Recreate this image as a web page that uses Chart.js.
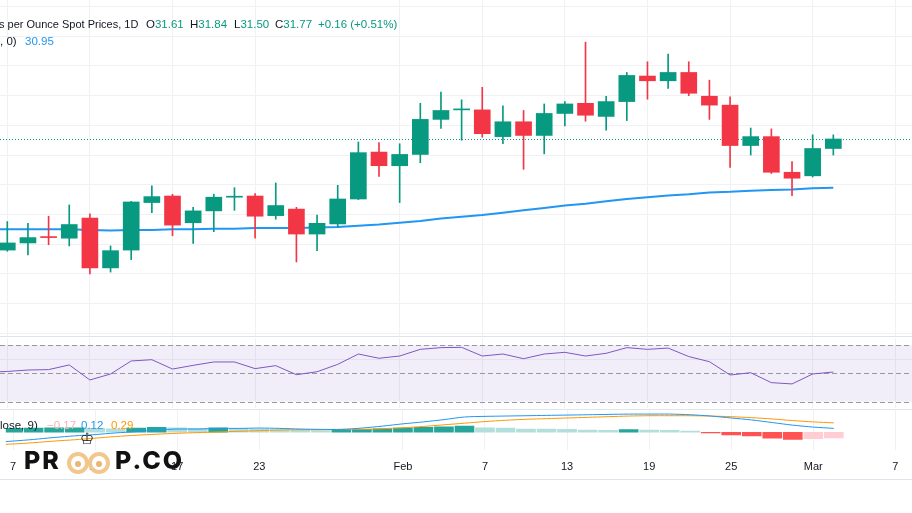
<!DOCTYPE html>
<html><head><meta charset="utf-8">
<script src="https://cdn.jsdelivr.net/npm/chart.js@4.4.1/dist/chart.umd.min.js"></script>
<style>
html,body{margin:0;padding:0;background:#fff;width:912px;height:513px;overflow:hidden;font-family:'Liberation Sans',Arial,sans-serif;}
canvas{position:absolute;left:0;}
.t{position:absolute;white-space:nowrap;font-size:11.5px;line-height:14px;color:#131722;}
.g{color:#089981}
.line{position:absolute;left:0;width:912px;height:1px;background:#e0e3eb;}
.logo{position:absolute;font-family:Inter,'Liberation Sans',sans-serif;font-weight:800;font-size:25px;line-height:25px;color:#111;letter-spacing:2px;z-index:5}
.eye{position:absolute;width:14px;height:14px;border:4px solid #f1c78c;border-radius:50%;z-index:5;background:#fff}
.eye i{position:absolute;left:4px;top:5px;width:6px;height:6px;border-radius:50%;background:#eab676}
</style></head><body>
<canvas id="price" width="912" height="336" style="top:0"></canvas>
<div class="line" style="top:336px"></div>
<canvas id="rsi" width="912" height="70" style="top:338px"></canvas>
<div class="line" style="top:409px"></div>
<canvas id="macd" width="912" height="69" style="top:410px"></canvas>
<div class="line" style="top:479px"></div>

<div class="t" style="left:-1px;top:17px;font-size:11px">s per Ounce Spot Prices, 1D</div>
<div class="t" style="left:146px;top:17px">O<span class="g">31.61</span></div>
<div class="t" style="left:190px;top:17px">H<span class="g">31.84</span></div>
<div class="t" style="left:234px;top:17px">L<span class="g">31.50</span></div>
<div class="t" style="left:275px;top:17px">C<span class="g">31.77</span></div>
<div class="t g" style="left:318px;top:17px">+0.16 (+0.51%)</div>
<div class="t" style="left:0px;top:34px">, 0)</div>
<div class="t" style="left:25px;top:34px;color:#2196f3">30.95</div>

<div class="t" style="left:0px;top:418px">lose, 9)</div>
<div class="t" style="left:47px;top:418px;color:#f7b3b9">−0.17</div>
<div class="t" style="left:81px;top:418px;color:#2196f3">0.12</div>
<div class="t" style="left:111px;top:418px;color:#ff9800">0.29</div>

<div class="logo" style="left:24px;top:448px">PR</div>
<div class="eye" style="left:67px;top:452px"><i></i></div>
<div class="eye" style="left:88px;top:452px"><i></i></div>
<div class="logo" style="left:80px;top:431px;font-size:16px;line-height:16px;font-family:'DejaVu Sans';font-weight:400">♔</div>
<div class="logo" style="left:115px;top:448px">P.CO</div>

<script>
// ---- data (Jan 6 is a lead-in day just left of the visible window) ----
const dates = ['Jan 6','Jan 7','Jan 8','Jan 9','Jan 10','Jan 13','Jan 14','Jan 15','Jan 16','Jan 17','Jan 20','Jan 21','Jan 22','Jan 23','Jan 24','Jan 27','Jan 28','Jan 29','Jan 30','Jan 31','Feb 3','Feb 4','Feb 5','Feb 6','Feb 7','Feb 10','Feb 11','Feb 12','Feb 13','Feb 14','Feb 17','Feb 18','Feb 19','Feb 20','Feb 21','Feb 24','Feb 25','Feb 26','Feb 27','Feb 28','Mar 3','Mar 4','Mar 5','Mar 6','Mar 7'];
const opens  = [null,29.90,30.02,30.12,30.10,30.44,29.60,29.90,30.70,30.81,30.36,30.56,30.79,30.81,30.48,30.59,30.17,30.34,30.76,31.55,31.32,31.51,32.10,32.26,32.26,31.81,32.06,31.83,32.20,32.37,32.15,32.40,32.83,32.75,32.89,32.49,32.34,31.66,31.81,31.21,31.15,31.61];
const highs  = [null,30.38,30.35,30.47,30.66,30.51,29.97,30.72,30.98,30.84,30.62,30.84,30.95,30.85,31.03,30.62,30.49,30.99,31.72,31.71,31.69,32.37,32.56,32.43,32.64,32.33,32.25,32.36,32.40,33.40,32.49,32.89,33.07,33.20,33.07,32.76,32.48,31.955,31.94,31.39,31.84,31.84];
const lows   = [null,29.88,29.82,29.99,29.97,29.50,29.53,29.74,30.53,30.14,30.01,30.21,30.57,30.10,30.42,29.70,29.89,30.29,30.75,31.14,30.70,31.37,31.95,31.75,31.80,31.69,31.26,31.52,31.99,32.07,31.92,32.08,32.44,32.62,32.50,32.10,31.29,31.50,31.19,30.815,31.13,31.50];
const closes = [null,30.02,30.11,30.11,30.33,29.60,29.89,30.71,30.80,30.32,30.56,30.79,30.80,30.47,30.65,30.17,30.35,30.76,31.54,31.32,31.51,32.10,32.25,32.27,31.86,32.06,31.83,32.20,32.36,32.17,32.40,32.84,32.75,32.89,32.54,32.34,31.66,31.81,31.21,31.11,31.61,31.77];
const ma     = [30.25,30.25,30.25,30.25,30.25,30.24,30.23,30.24,30.24,30.25,30.25,30.26,30.26,30.27,30.27,30.27,30.28,30.29,30.31,30.33,30.36,30.39,30.43,30.46,30.49,30.53,30.57,30.61,30.65,30.68,30.72,30.76,30.79,30.82,30.84,30.87,30.88,30.90,30.91,30.92,30.94,30.95];
const rsi    = [50.8,51.3,52.3,52.6,55.9,45.3,49.5,58.7,59.6,53.0,55.6,58.0,58.0,53.3,55.4,49.0,51.1,56.3,63.6,60.6,62.2,66.9,68.1,68.3,62.2,63.6,60.3,63.6,64.8,62.2,64.1,68.1,66.9,67.8,61.8,58.2,48.8,50.4,43.4,42.5,49.5,50.9];
const macdLine = [-0.31,-0.27,-0.22,-0.16,-0.11,-0.07,-0.02,0.02,0.07,0.10,0.10,0.12,0.12,0.13,0.12,0.10,0.09,0.09,0.13,0.19,0.26,0.32,0.39,0.47,0.49,0.50,0.51,0.52,0.53,0.54,0.55,0.56,0.56,0.56,0.54,0.50,0.44,0.38,0.30,0.22,0.16,0.12];
const signalLine = [-0.38,-0.36,-0.32,-0.27,-0.23,-0.18,-0.13,-0.09,-0.06,-0.03,-0.01,0.01,0.03,0.05,0.07,0.08,0.08,0.09,0.09,0.11,0.14,0.18,0.23,0.28,0.33,0.37,0.40,0.42,0.44,0.46,0.48,0.50,0.51,0.51,0.51,0.50,0.48,0.45,0.41,0.36,0.32,0.29];
const histogram = [null,0.12,0.13,0.135,0.14,0.12,0.11,0.13,0.15,0.14,0.12,0.14,0.12,0.10,0.08,0.06,0.05,0.07,0.09,0.11,0.13,0.15,0.17,0.19,0.14,0.13,0.10,0.095,0.09,0.07,0.06,0.08,0.07,0.06,0.04,-0.02,-0.08,-0.11,-0.18,-0.22,-0.20,-0.17];
const tickDays   = ['Jan 7','Jan 13','Jan 17','Jan 23','Feb 3','Feb 7','Feb 13','Feb 19','Feb 25','Mar 3','Mar 7'];
const tickLabels = ['7','13','17','23','Feb','7','13','19','25','Mar','7'];
const rsiLevels  = [70, 50, 30];

// ---- styling / layout ----
const X_MIN = 0.6465, X_MAX = 44.81;
const GRID = '#eff1f4';
const UP = '#089981', DOWN = '#f23645';
const tickIdx = tickDays.map(d => dates.indexOf(d));

function xScale(showLabels){
  return {
    type:'linear', min:X_MIN, max:X_MAX, offset:false,
    grid:{color:GRID, offset:false, drawTicks:false}, border:{display:false},
    afterBuildTicks: s => { s.ticks = tickIdx.map(v => ({value:v})); },
    ticks:{display:showLabels, autoSkip:false, maxRotation:0, minRotation:0, padding:10,
      color:'#131722', font:{family:'Liberation Sans', size:11},
      callback: v => { const k = tickIdx.indexOf(v); return k >= 0 ? tickLabels[k] : ''; }},
    afterFit: s => { s.height = showLabels ? 29 : 0; }
  };
}
function yScale(min, max, extra){
  return Object.assign({
    position:'right', min, max,
    grid:{color:GRID, drawTicks:false}, border:{display:false},
    ticks:{display:false, includeBounds:false},
    afterFit: s => { s.width = 0; }
  }, extra || {});
}
const baseOpts = {
  responsive:false, animation:false, events:[],
  layout:{padding:0},
  plugins:{legend:{display:false}, tooltip:{enabled:false}}
};

// ---- price pane ----
const idxs = dates.map((d,i) => i);
const candleIdx = idxs.filter(i => i < opens.length && opens[i] != null);
const candleColor = candleIdx.map(i => closes[i] >= opens[i] ? UP : DOWN);
const lastIdx = closes.length - 1;
const lastPriceLine = {
  id:'lastPrice',
  beforeDatasetsDraw(chart){
    const {ctx, chartArea:a, scales:{y}} = chart;
    const py = Math.round(y.getPixelForValue(closes[lastIdx])) + 0.5;
    ctx.save(); ctx.strokeStyle = UP; ctx.lineWidth = 1; ctx.setLineDash([1,2]);
    ctx.beginPath(); ctx.moveTo(a.left, py); ctx.lineTo(a.right, py); ctx.stroke(); ctx.restore();
  }
};
new Chart(document.getElementById('price'), {
  type:'bar',
  data:{datasets:[
    {label:'body', order:1, grouped:false, barThickness:16, minBarLength:1, borderWidth:0,
      backgroundColor:candleColor,
      data: candleIdx.map(i => ({x:i, y:[opens[i], closes[i]]}))},
    {label:'wick', order:2, grouped:false, barThickness:1, borderWidth:0,
      backgroundColor:candleColor,
      data: candleIdx.map(i => ({x:i, y:[lows[i], highs[i]]}))},
    {label:'MA', type:'line', order:3, borderColor:'#2196f3', borderWidth:2, pointRadius:0, tension:0,
      data: ma.map((v,i) => ({x:i, y:v}))}
  ]},
  options: Object.assign({}, baseOpts, {
    scales:{ x:xScale(false), y:yScale(28.4535, 34.11, {ticks:{display:false, includeBounds:false, stepSize:0.5}}) }
  }),
  plugins:[lastPriceLine]
});

// ---- RSI pane ----
const rsiBands = {
  id:'rsiBands',
  beforeDatasetsDraw(chart){
    const {ctx, chartArea:a, scales:{y}} = chart;
    const top = y.getPixelForValue(rsiLevels[0]), bot = y.getPixelForValue(rsiLevels[2]);
    ctx.save();
    ctx.fillStyle = 'rgba(126,87,194,0.1)';
    ctx.fillRect(a.left, top, a.right - a.left, bot - top);
    ctx.strokeStyle = '#9598a1'; ctx.lineWidth = 1; ctx.setLineDash([5,3]);
    rsiLevels.forEach(l => {
      const py = Math.round(y.getPixelForValue(l)) + 0.5;
      ctx.beginPath(); ctx.moveTo(a.left, py); ctx.lineTo(a.right, py); ctx.stroke();
    });
    ctx.restore();
  }
};
new Chart(document.getElementById('rsi'), {
  type:'line',
  data:{datasets:[
    {label:'RSI', borderColor:'#7e57c2', borderWidth:1, pointRadius:0, tension:0,
      data: rsi.map((v,i) => ({x:i, y:v}))}
  ]},
  options: Object.assign({}, baseOpts, {
    scales:{ x:xScale(false),
      y:yScale(25.52, 74.90, {afterBuildTicks: s => { s.ticks = [{value:60}]; }}) }
  }),
  plugins:[rsiBands]
});

// ---- MACD pane ----
const histIdx = idxs.filter(i => i < histogram.length && histogram[i] != null);
const histColor = histIdx.map(i => {
  const v = histogram[i], p = histogram[i-1];
  if (v >= 0) return (p == null || v > p) ? '#26a69a' : '#b2dfdb';
  return (p != null && v < p) ? '#ff5252' : '#ffcdd2';
});
new Chart(document.getElementById('macd'), {
  type:'bar',
  data:{datasets:[
    {label:'Histogram', order:2, grouped:false, barThickness:19, borderWidth:0,
      backgroundColor:histColor,
      data: histIdx.map(i => ({x:i, y:histogram[i]}))},
    {label:'MACD', type:'line', order:0, borderColor:'#2196f3', borderWidth:1, pointRadius:0, tension:0.3,
      data: macdLine.map((v,i) => ({x:i, y:v}))},
    {label:'Signal', type:'line', order:1, borderColor:'#ff9800', borderWidth:1, pointRadius:0, tension:0.3,
      data: signalLine.map((v,i) => ({x:i, y:v}))}
  ]},
  options: Object.assign({}, baseOpts, {
    scales:{ x:xScale(true),
      y:yScale(-0.545, 0.686, {grid:{display:false}}) }
  })
});
</script>
</body></html>
